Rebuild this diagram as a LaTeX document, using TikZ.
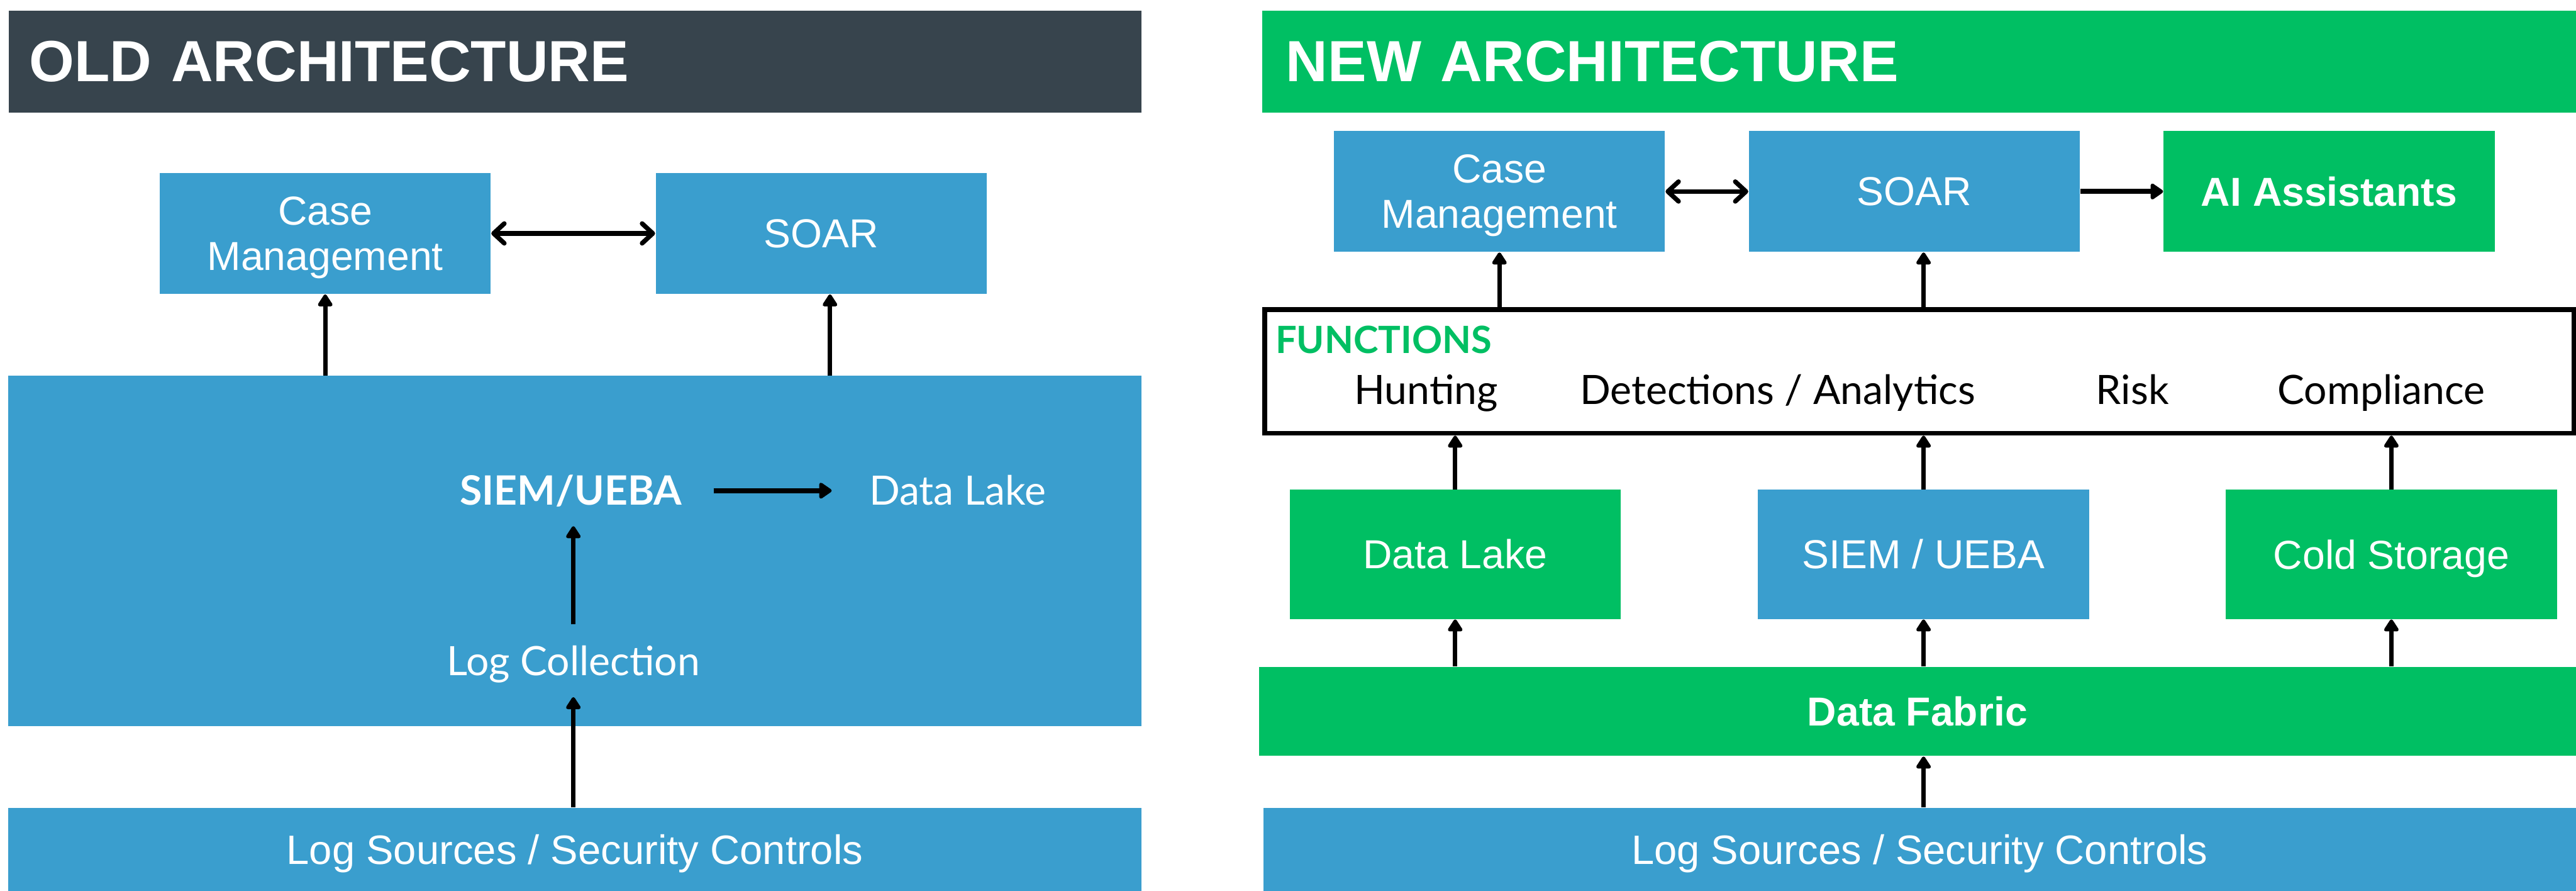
\documentclass[tikz,border=0pt]{standalone}
\usepackage{fontspec}
\setmainfont{Liberation Sans}
\newfontfamily\lato{Lato}
\usetikzlibrary{arrows.meta}

\definecolor{slate}{RGB}{55,68,77}
\definecolor{secblue}{RGB}{58,158,206}
\definecolor{secgreen}{RGB}{0,191,99}

\tikzset{
  box/.style={fill=secblue, text=white, inner sep=0pt, align=center,
    minimum width=4.03cm, minimum height=1.47cm, font=\fontsize{14}{15.7}\selectfont},
  gbox/.style={box, fill=secgreen},
  bold/.style={font=\bfseries\fontsize{14}{15.7}\selectfont},
  bar/.style={inner sep=0pt, text=white, font=\fontsize{14.2}{16}\selectfont},
  head/.style={text=white, inner ysep=0pt, minimum height=1.246cm, align=left,
    font=\bfseries\fontsize{20.1}{24}\selectfont},
  lbl/.style={inner sep=0pt, text height=10pt, text depth=0pt, font=\lato\fontsize{14}{16}\selectfont},
  arr/.style={-{Triangle[round,length=1.65mm,width=2mm]}, line width=1.5pt},
  harr/.style={-{Triangle[round,length=1.7mm,width=2.2mm]}, line width=1.8pt},
  dblarr/.style={{Straight Barb[round,length=1.3mm,width=2.4mm]}-{Straight Barb[round,length=1.3mm,width=2.4mm]}, line width=1.6pt},
}

\begin{document}
\begin{tikzpicture}
    \useasboundingbox[fill=white] (0,0) rectangle (31.36,10.84);
    % Old architecture
    \node[head, fill=slate, text width=13.286cm, inner xsep=0.254cm] (oldhead) at (7.001,10.089) {OLD ARCHITECTURE};
    \node[box] (oldcase) at (3.959,8.0) {Case\\\smash{Management}};
    \node[box] (oldsoar) at (9.997,8.0) {SOAR};
    \node[fill=secblue, inner sep=0pt, minimum width=13.8cm, minimum height=4.258cm] (core) at (6.998,4.137) {};
    \node[lbl, text=white, font=\lato\bfseries\fontsize{14}{16}\selectfont] (oldsiem) at (6.95,4.87) {SIEM/UEBA};
    \node[lbl, text=white] (oldlake) at (11.656,4.87) {Data Lake};
    \node[lbl, text=white] (logcol) at (6.98,2.80) {Log Collection};
    \node[bar, fill=secblue, minimum width=13.8cm, minimum height=1.01cm, text depth=0pt] (oldsrc) at (6.998,0.505) {Log Sources / Security Controls};
    % Old connectors
    \coordinate (soarfoot) at ([xshift=1.07mm]oldsoar.south);
    \draw[dblarr] (oldcase) -- (oldsoar);
    \draw[arr] (core.north -| oldcase.south) -- (oldcase.south);
    \draw[arr] (soarfoot |- core.north) -- (soarfoot);
    \draw[harr, shorten <=3.8mm, shorten >=4.5mm] (oldsiem.east) -- (oldlake.west);
    \draw[arr, shorten <=2.6mm, shorten >=2.5mm] (logcol.north) -- (logcol.north |- oldsiem.south);
    \draw[arr, shorten >=2.6mm] (oldsrc.north -| logcol.south) -- (logcol.south);

    % New architecture
    \node[head, fill=secgreen, text width=15.416cm, inner xsep=0.288cm] (newhead) at (23.364,10.089) {NEW ARCHITECTURE};
    \node[box] (newcase) at (18.254,8.51) {Case\\\smash{Management}};
    \node[box] (newsoar) at (23.305,8.51) {SOAR};
    \node[gbox, bold] (ai) at (28.355,8.51) {AI Assistants};
    % Functions strip
    \node[draw, line width=1.6pt, inner sep=0pt, minimum width=15.936cm, minimum height=1.504cm] (fn) at (23.364,6.32) {};
    \node[lbl, anchor=west, text=secgreen, font=\lato\bfseries\fontsize{13}{15}\selectfont] (fnlabel) at (15.52,6.72) {FUNCTIONS};
    \node[lbl] (hunt) at (17.36,6.10) {Hunting};
    \node[lbl] (detect) at (21.64,6.10) {Detections / Analytics};
    \node[lbl] (risk) at (25.96,6.10) {Risk};
    \node[lbl] (comply) at (28.99,6.10) {Compliance};
    % Storage and analytics
    \node[gbox, minimum height=1.57cm] (lake) at (17.715,4.095) {Data Lake};
    \node[box, minimum height=1.57cm] (siem) at (23.417,4.095) {SIEM / UEBA};
    \node[gbox, minimum height=1.57cm, text depth=0pt] (cold) at (29.112,4.095) {Cold Storage};
    \node[bar, bold, fill=secgreen, minimum width=16.034cm, minimum height=1.082cm] (fabric) at (23.343,2.183) {Data Fabric};
    \node[bar, fill=secblue, minimum width=15.982cm, minimum height=1.01cm, text depth=0pt] (newsrc) at (23.369,0.505) {Log Sources / Security Controls};
    % New connectors
    \draw[dblarr] (newcase) -- (newsoar);
    \draw[harr] (newsoar) -- (ai);
    \draw[arr] (fn.north -| newcase.south) -- (newcase.south);
    \draw[arr] (fn.north -| siem) -- (siem |- newsoar.south);
    \draw[arr] (lake.north) -- (lake.north |- fn.south);
    \draw[arr] (siem.north) -- (siem.north |- fn.south);
    \draw[arr] (cold.north) -- (cold.north |- fn.south);
    \draw[arr] (fabric.north -| lake) -- (lake.south);
    \draw[arr] (fabric.north -| siem) -- (siem.south);
    \draw[arr] (fabric.north -| cold) -- (cold.south);
    \draw[arr] (newsrc.north -| siem) -- (siem |- fabric.south);
\end{tikzpicture}
\end{document}
